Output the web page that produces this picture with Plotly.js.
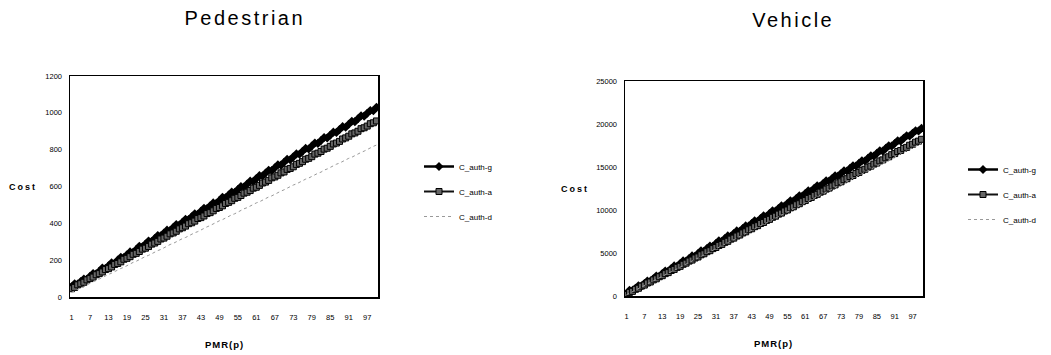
<!DOCTYPE html>
<html>
<head>
<meta charset="utf-8">
<script src="https://cdn.plot.ly/plotly-3.0.1.min.js"></script>
<style>
html,body{margin:0;padding:0;background:#fff;}
#chart{width:1051px;height:355px;}
</style>
</head>
<body>
<div id="chart"></div>
<script>
// PMR(p) categories
const pmr = [1,2,3,4,5,6,7,8,9,10,11,12,13,14,15,16,17,18,19,20,
  21,22,23,24,25,26,27,28,29,30,31,32,33,34,35,36,37,38,39,40,
  41,42,43,44,45,46,47,48,49,50,51,52,53,54,55,56,57,58,59,60,
  61,62,63,64,65,66,67,68,69,70,71,72,73,74,75,76,77,78,79,80,
  81,82,83,84,85,86,87,88,89,90,91,92,93,94,95,96,97,98,99,100];
const tickLabels = [1,7,13,19,25,31,37,43,49,55,61,67,73,79,85,91,97];

// Pedestrian
const pedAuthG = [55,72,70,84,98,96,112,128,126,140,
  157,155,170,186,183,200,216,214,229,245,
  243,258,275,273,288,304,301,318,334,332,
  347,363,361,377,393,391,406,422,420,436,
  452,449,466,482,480,495,511,509,524,541,
  539,554,570,568,584,600,597,613,629,627,
  643,659,657,673,688,686,702,718,716,732,
  748,745,761,777,775,791,807,804,820,836,
  834,850,866,863,879,895,893,909,925,922,
  938,954,952,968,984,982,998,1013,1011,1030];
const pedAuthA = [45,52,66,72,80,93,100,108,121,127,
  136,149,154,163,177,182,191,205,210,219,
  232,237,247,260,265,274,287,293,302,315,
  320,330,343,348,357,370,376,385,398,403,
  412,426,431,440,453,458,468,481,486,495,
  508,514,523,536,541,551,564,569,578,591,
  596,606,619,624,633,647,652,661,674,679,
  693,698,707,720,726,735,748,753,762,776,
  781,790,803,808,818,831,836,845,858,864,
  873,886,891,900,914,919,928,941,946,956];
const pedAuthD = [25,34,40,50,56,66,72,83,89,98,
  107,113,123,129,139,145,155,161,171,178,
  188,194,204,210,220,226,236,242,252,258,
  268,274,285,291,301,307,317,323,333,339,
  349,355,365,371,381,388,398,404,414,420,
  430,436,446,452,462,468,479,485,495,501,
  511,517,527,533,543,549,559,565,575,582,
  592,598,608,614,624,630,640,646,656,662,
  672,678,689,695,705,711,721,727,737,743,
  753,759,769,775,785,792,802,808,818,825];

// Vehicle
const vehAuthG = [250,650,620,900,1180,1150,1450,1750,1700,2000,
  2330,2300,2600,2900,2870,3200,3500,3460,3780,4080,
  4050,4350,4660,4620,4950,5250,5210,5520,5820,5790,
  6100,6410,6370,6690,6990,6950,7270,7570,7530,7850,
  8150,8120,8430,8740,8700,9010,9320,9280,9600,9900,
  9870,10180,10480,10450,10760,11070,11030,11340,11650,11610,
  11920,12230,12190,12510,12810,12780,13090,13400,13360,13670,
  13980,13940,14250,14560,14530,14840,15150,15110,15420,15720,
  15690,16000,16300,16270,16580,16890,16850,17160,17470,17430,
  17740,18050,18010,18330,18630,18600,18910,19220,19180,19500];
const vehAuthA = [180,420,540,780,900,1150,1270,1510,1630,1870,
  2000,2240,2360,2600,2720,2970,3090,3330,3450,3690,
  3820,4060,4180,4420,4540,4790,4910,5150,5270,5510,
  5640,5880,6000,6240,6360,6610,6730,6970,7090,7330,
  7460,7700,7820,8060,8180,8430,8550,8790,8910,9150,
  9280,9520,9640,9880,10000,10250,10370,10610,10730,10970,
  11100,11340,11460,11700,11820,12070,12190,12430,12550,12790,
  12920,13160,13280,13520,13640,13890,14010,14250,14370,14610,
  14740,14980,15100,15340,15460,15710,15830,16070,16190,16430,
  16560,16800,16920,17160,17280,17530,17650,17890,18010,18220];
const vehAuthD = [150,340,500,690,850,1050,1210,1400,1570,1760,
  1920,2120,2280,2470,2630,2830,2990,3180,3350,3540,
  3700,3900,4060,4250,4410,4610,4770,4960,5130,5320,
  5480,5680,5840,6030,6190,6390,6550,6740,6910,7100,
  7260,7460,7620,7810,7970,8170,8330,8520,8690,8880,
  9040,9240,9400,9590,9750,9950,10110,10300,10470,10660,
  10820,11020,11180,11370,11530,11730,11890,12080,12250,12440,
  12600,12800,12960,13150,13310,13510,13670,13860,14030,14220,
  14380,14580,14740,14930,15090,15290,15450,15640,15810,16000,
  16160,16360,16520,16710,16870,17070,17230,17420,17590,17780];

const seriesNames = ['C_auth-g','C_auth-a','C_auth-d'];

function makeTraces(g, a, d, xa, ya, leg) {
  return [
    {x: pmr, y: g, name: seriesNames[0], xaxis: xa, yaxis: ya, legend: leg, legendgroup: leg+'g',
     mode: 'lines+markers', line: {color: '#000', width: 2.5},
     marker: {symbol: 'diamond', size: 7, color: '#000'}},
    {x: pmr, y: a, name: seriesNames[1], xaxis: xa, yaxis: ya, legend: leg, legendgroup: leg+'a',
     mode: 'lines+markers', line: {color: '#111', width: 2},
     marker: {symbol: 'square', size: 6, color: '#666', line: {color: '#000', width: 1}}},
    {x: pmr, y: d, name: seriesNames[2], xaxis: xa, yaxis: ya, legend: leg, legendgroup: leg+'d',
     mode: 'lines', line: {color: '#999', width: 1, dash: 'dot'}}
  ];
}

const data = [].concat(
  makeTraces(pedAuthG, pedAuthA, pedAuthD, 'x', 'y', 'legend'),
  makeTraces(vehAuthG, vehAuthA, vehAuthD, 'x2', 'y2', 'legend2')
);

const tickFont = {family: '"Liberation Sans Narrow", "Liberation Sans", Arial, sans-serif', size: 7.5, color: '#000'};
const W = 1051, H = 355;
function xAxis(l, r, anchor) {
  return {domain: [l/W, r/W], anchor: anchor, range: [0.5, 100.5], tickmode: 'array', tickvals: tickLabels,
    ticktext: tickLabels.map(String), ticks: '', showgrid: false, zeroline: false,
    showline: true, mirror: true, linecolor: '#000', linewidth: 1.5, tickfont: tickFont,
    ticklabelstandoff: 12, fixedrange: true};
}
function yAxis(top, bottom, max, dtick, anchor) {
  return {domain: [(H-bottom)/H, (H-top)/H], anchor: anchor, range: [0, max], dtick: dtick, ticks: '',
    tickformat: 'd', showgrid: false, zeroline: false, showline: true, mirror: true, linecolor: '#000',
    linewidth: 1.5, tickfont: tickFont, ticklabelstandoff: 5, fixedrange: true};
}
const legFont = {family: '"Liberation Sans Narrow", "Liberation Sans", Arial, sans-serif', size: 8, color: '#000'};
const titleFont = {family: '"Liberation Sans", Arial, sans-serif', size: 20, color: '#000'};
const labFont = {family: '"Liberation Sans", Arial, sans-serif', size: 9, color: '#000', weight: 'bold'};

function ann(text, x, y, font) {
  return {text: text, x: x/W, y: 1 - y/H, xref: 'paper', yref: 'paper', showarrow: false,
    xanchor: 'center', yanchor: 'middle', font: font};
}

const layout = {
  width: W, height: H, margin: {l: 0, r: 0, t: 0, b: 0},
  paper_bgcolor: '#fff', plot_bgcolor: '#fff', showlegend: true,
  xaxis: xAxis(70, 378, 'y'), yaxis: yAxis(76, 297, 1200, 200, 'x'),
  xaxis2: xAxis(625, 923, 'y2'), yaxis2: yAxis(81, 296, 25000, 5000, 'x2'),
  legend: {x: 419/W, y: 1 - 152/H, xanchor: 'left', yanchor: 'top', font: legFont,
    bgcolor: 'rgba(0,0,0,0)', traceorder: 'grouped', tracegroupgap: 6, itemwidth: 30},
  legend2: {x: 963/W, y: 1 - 155/H, xanchor: 'left', yanchor: 'top', font: legFont,
    bgcolor: 'rgba(0,0,0,0)', traceorder: 'grouped', tracegroupgap: 6, itemwidth: 30},
  annotations: [
    ann('Pedestrian', 245, 18, titleFont),
    ann('Vehicle', 793, 20, titleFont),
    ann('Cost', 23, 187, labFont),
    ann('Cost', 575, 189, labFont),
    ann('PMR(p)', 224, 344, Object.assign({}, labFont, {size: 9.5})),
    ann('PMR(p)', 773, 343, Object.assign({}, labFont, {size: 9.5}))
  ]
};

Plotly.newPlot('chart', data, layout, {displayModeBar: false, staticPlot: true}).then(function () {
  document.querySelectorAll('.annotation-text').forEach(function (t) {
    const s = t.textContent;
    if (s === 'Pedestrian' || s === 'Vehicle') t.style.letterSpacing = '2.5px';
    else if (s === 'Cost') t.style.letterSpacing = '2px';
    else t.style.letterSpacing = '1px';
  });
});
</script>
</body>
</html>
